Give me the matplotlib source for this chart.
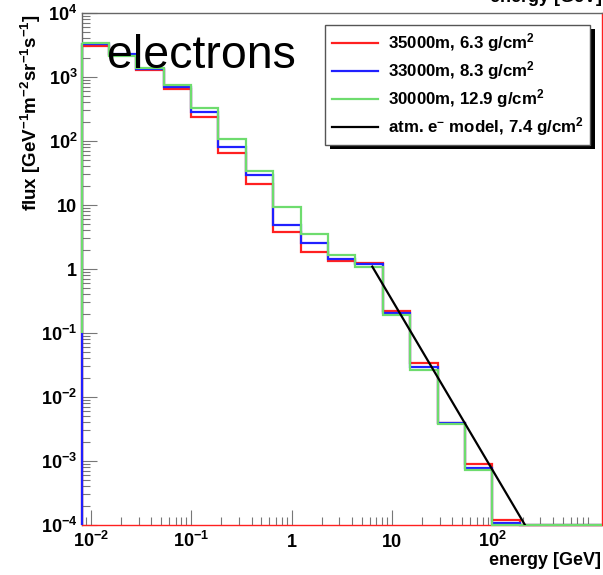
import numpy as np
import matplotlib
matplotlib.use("Agg")
import matplotlib.pyplot as plt
from matplotlib.ticker import FixedLocator, FixedFormatter, LogLocator, NullFormatter
from matplotlib.lines import Line2D
from matplotlib.patches import Rectangle
from matplotlib.transforms import IdentityTransform

plt.rcParams['font.family'] = ['Liberation Sans', 'DejaVu Sans']
plt.rcParams['mathtext.fontset'] = 'custom'
plt.rcParams['mathtext.rm'] = 'Liberation Sans'
plt.rcParams['mathtext.bf'] = 'Liberation Sans:bold'
plt.rcParams['mathtext.it'] = 'Liberation Sans:italic'

# energy bin edges [GeV], 11 bins per 3 decades
edges = [0.008111, 0.01520, 0.02848, 0.05337, 0.1, 0.1874, 0.3511, 0.6579,
         1.233, 2.310, 4.329, 8.111, 15.20, 28.48, 53.37, 100.0, 187.4,
         351.2, 658.0, 1233.0]

# electron flux per bin
flux_35km = [3100, 2200, 1300, 643, 240, 64, 21.3, 3.85, 1.86, 1.31, 1.23,
             0.223, 0.0336, 0.00398, 8.97e-4, 1.18e-4, 0, 0, 0]
flux_33km = [3250, 2250, 1320, 690, 279, 80, 29.7, 4.92, 2.51, 1.42, 1.18,
             0.203, 0.0291, 0.0039, 7.7e-4, 1.09e-4, 0, 0, 0]
flux_30km = [3450, 2100, 1400, 750, 333, 107, 34.4, 9.4, 3.52, 1.66, 1.09,
             0.191, 0.0264, 0.0038, 7.24e-4, 0, 0, 0, 0]

# atmospheric electron model (power law, straight in log-log)
model_e = [6.37, 211.0]
model_flux = [1.09, 1.0e-4]

labels = ['35000m, 6.3 g/cm$^{\\mathbf{2}}$',
          '33000m, 8.3 g/cm$^{\\mathbf{2}}$',
          '30000m, 12.9 g/cm$^{\\mathbf{2}}$',
          'atm. e$^{\\mathbf{-}}$ model, 7.4 g/cm$^{\\mathbf{2}}$']
colors = ['#ff2020', '#2020ff', '#6edc6e', 'black']

xticks = [1e-2, 1e-1, 1, 10, 100]
xticklabels = ['$\\mathbf{10^{-2}}$', '$\\mathbf{10^{-1}}$', '1', '10', '$\\mathbf{10^{2}}$']
yticks = [1e-4, 1e-3, 1e-2, 1e-1, 1, 10, 100, 1e3, 1e4]
yticklabels = ['$\\mathbf{10^{-4}}$', '$\\mathbf{10^{-3}}$', '$\\mathbf{10^{-2}}$',
               '$\\mathbf{10^{-1}}$', '1', '10', '$\\mathbf{10^{2}}$',
               '$\\mathbf{10^{3}}$', '$\\mathbf{10^{4}}$']

ymin, ymax = 1e-4, 1e4
green_floor = 0.1   # where the green left edge starts on the frame

fig = plt.figure(figsize=(6.03, 5.75), dpi=100)
ax = fig.add_axes([81.5 / 603, 50 / 575, 520.5 / 603, 512 / 575])
ax.set_xscale('log')
ax.set_yscale('log')
ax.set_xlim(edges[0], edges[-1])
ax.set_ylim(ymin, ymax)

# histograms, zero bins drawn on the floor like ROOT does
for vals, col in zip([flux_35km, flux_33km], colors[:2]):
    v = np.array(vals, dtype=float)
    v = np.where(v > 0, v, ymin)
    ax.stairs(v, edges, baseline=ymin, color=col, lw=1.6, zorder=3, clip_on=False)

v = np.array(flux_30km, dtype=float)
v = np.where(v > 0, v, ymin)
ax.stairs(v, edges, baseline=None, color=colors[2], lw=1.6, zorder=3, clip_on=False)
ax.vlines(edges[0], green_floor, v[0], color=colors[2], lw=1.6, zorder=3, clip_on=False)

ax.plot(model_e, model_flux, color='black', lw=1.6, zorder=4)

# frame and ticks
for side in ['top', 'left']:
    ax.spines[side].set_color('#666666')
ax.spines['bottom'].set_color(colors[0])
ax.spines['right'].set_color(colors[0])
for sp in ax.spines.values():
    sp.set_linewidth(1.0)

ax.xaxis.set_major_locator(FixedLocator(xticks))
ax.xaxis.set_major_formatter(FixedFormatter(xticklabels))
ax.xaxis.set_minor_locator(LogLocator(base=10, subs=np.arange(2, 10), numticks=20))
ax.xaxis.set_minor_formatter(NullFormatter())
ax.yaxis.set_major_locator(FixedLocator(yticks))
ax.yaxis.set_major_formatter(FixedFormatter(yticklabels))
ax.yaxis.set_minor_locator(LogLocator(base=10, subs=np.arange(2, 10), numticks=20))
ax.yaxis.set_minor_formatter(NullFormatter())

ax.tick_params(which='both', direction='in', color='#777777', width=0.8,
               top=False, right=False, labelsize=13)
ax.tick_params(which='major', length=10.5)
ax.tick_params(which='minor', length=5.5)
ax.tick_params(axis='x', pad=16)
ax.tick_params(axis='y', pad=3)
for t in ax.get_xticklabels():
    t.set_fontweight('bold')
    t.set_va('baseline')
for t in ax.get_yticklabels():
    t.set_fontweight('bold')
    t.set_va('center_baseline')

ax.set_ylabel('flux [GeV$^{\\mathbf{-1}}$m$^{\\mathbf{-2}}$sr$^{\\mathbf{-1}}$s$^{\\mathbf{-1}}$]',
              fontsize=13.5, fontweight='bold', loc='top')
ax.yaxis.set_label_coords(-0.074, 0.998)

fig.text(601 / 603, 10 / 575, 'energy [GeV]', ha='right', va='baseline',
         fontsize=13, fontweight='bold')
# clipped label of the panel above
fig.text(601.5 / 603, 1 - 2.5 / 575, 'energy [GeV]', ha='right', va='baseline',
         fontsize=13, fontweight='bold')

ax.text(0.049, 0.8926, 'electrons', transform=ax.transAxes, fontsize=33.5,
        va='baseline', ha='left', zorder=6)

handles = [Line2D([], [], color=c, lw=1.6) for c in colors]
leg = ax.legend(handles, labels, loc='upper right', bbox_to_anchor=(0.977, 0.9766),
                borderaxespad=0, fancybox=False, edgecolor='#555555',
                framealpha=1, handlelength=2.7, handletextpad=0.6,
                labelspacing=0.3, borderpad=0.38,
                prop={'size': 12.2, 'weight': 'bold'})
leg.get_frame().set_linewidth(1.0)
leg.set_zorder(7)

fig.canvas.draw()
bb = leg.get_window_extent()
shadow = Rectangle((bb.x0 + 5, bb.y0 - 4), bb.width, bb.height,
                   transform=IdentityTransform(), facecolor='black',
                   edgecolor='none', zorder=6.9, clip_on=False)
ax.add_patch(shadow)

fig.savefig('out.png', dpi=100)
